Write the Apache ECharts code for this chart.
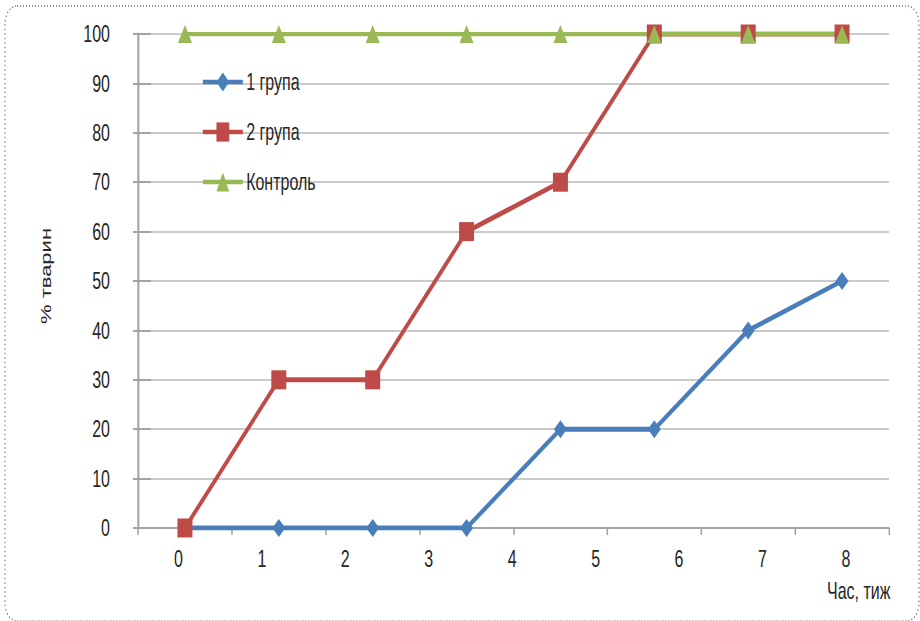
<!DOCTYPE html>
<html>
<head>
<meta charset="utf-8">
<script src="https://cdn.jsdelivr.net/npm/echarts@6/dist/echarts.min.js"></script>
<style>
  html, body { margin: 0; padding: 0; background: #fff; overflow: hidden; }
  #wrap { width: 920px; height: 621px; overflow: hidden; position: relative; }
  /* The chart is laid out wider and squeezed horizontally, giving the tall, narrow lettering and markers */
  #chart { width: 1380px; height: 621px; transform: scaleX(0.6666667); transform-origin: 0 0; }
</style>
</head>
<body>
<div id="wrap"><div id="chart"></div></div>
<script>
// Week labels along the time axis
const weekLabels = ['0', '1', '2', '3', '4', '5', '6', '7', '8'];

// Share of animals (%) per observation
const group1 = [0, 0, 0, 0, 20, 20, 40, 50];
const group2 = [0, 30, 30, 60, 70, 100, 100, 100];
const control = [100, 100, 100, 100, 100, 100, 100, 100];

const seriesNames = ['1 група', '2 група', 'Контроль'];

// Observation slots used to place the points
const slots = group1.map((_, i) => String(i));

// Horizontal squeeze factor (layout width / page width)
const SX = 1.5;
const W = 920 * SX;
const FONT = "'Liberation Sans', Arial, sans-serif";
const TEXT = '#262626';
const AXIS = '#a3a3a3';

const chart = echarts.init(document.getElementById('chart'), null, { renderer: 'svg' });

chart.setOption({
  animation: false,
  backgroundColor: '#ffffff',
  textStyle: { fontFamily: FONT },
  grid: {
    left: 138 * SX,
    right: W - 889 * SX,
    top: 34,
    bottom: 93,
    containLabel: false,
    outerBoundsMode: 'none'
  },
  graphic: [{
    type: 'rect',
    silent: true,
    z: -10,
    shape: { x: 5 * SX, y: 6, width: 914 * SX, height: 615, r: 18 },
    style: { fill: 'none', stroke: '#6e6e6e', lineWidth: 1.6, lineDash: [1.5, 3] }
  }],
  legend: {
    orient: 'vertical',
    left: 198 * SX,
    top: 65,
    itemWidth: 40 * SX,
    itemHeight: 24,
    itemGap: 26,
    data: seriesNames,
    lineStyle: { width: 4.5 },
    textStyle: { fontSize: 24, color: TEXT, fontFamily: FONT }
  },
  xAxis: [{
    type: 'category',
    data: slots,
    position: 'bottom',
    boundaryGap: true,
    axisLine: { show: true, onZero: false, lineStyle: { color: AXIS, width: 2 } },
    axisTick: { show: true, length: 7, lineStyle: { color: AXIS, width: 2.3 } },
    axisLabel: { show: false },
    splitLine: { show: false }
  }, {
    type: 'category',
    data: weekLabels,
    position: 'bottom',
    boundaryGap: true,
    axisLine: { show: false },
    axisTick: { show: false },
    axisLabel: { margin: 19, fontSize: 24, color: TEXT, fontFamily: FONT, padding: [0, 4, 0, 0] },
    splitLine: { show: false },
    name: 'Час, тиж',
    nameLocation: 'end',
    nameGap: 2,
    nameTextStyle: {
      fontSize: 24, color: TEXT, fontFamily: FONT,
      align: 'right', verticalAlign: 'top', padding: [51, 0, 0, 0]
    }
  }],
  yAxis: [{
    type: 'value',
    min: 0,
    max: 100,
    interval: 10,
    position: 'left',
    axisLine: { show: true, lineStyle: { color: AXIS, width: 3 } },
    axisTick: { show: true, inside: true, length: 13 * SX, lineStyle: { color: AXIS, width: 2 } },
    axisLabel: { margin: 28 * SX, fontSize: 24, color: TEXT, fontFamily: FONT },
    splitLine: { show: true, lineStyle: { color: '#b8b8b8', width: 1.7 } },
    name: '% тварин',
    nameLocation: 'middle',
    nameGap: 85 * SX,
    nameTextStyle: { fontSize: 22, color: TEXT, fontFamily: FONT, padding: [0, 0, 0, 10] }
  }, {
    type: 'value',
    min: 0,
    max: 100,
    interval: 10,
    position: 'left',
    axisLine: { show: false },
    axisTick: { show: true, inside: false, length: 5 * SX, lineStyle: { color: AXIS, width: 2 } },
    axisLabel: { show: false },
    splitLine: { show: false }
  }],
  series: [{
    name: seriesNames[0],
    type: 'line',
    xAxisIndex: 0,
    yAxisIndex: 0,
    data: group1,
    symbol: 'diamond',
    symbolSize: [13 * SX, 18],
    lineStyle: { width: 5, color: '#4a7ebb' },
    itemStyle: { color: '#4a7ebb' }
  }, {
    name: seriesNames[1],
    type: 'line',
    xAxisIndex: 0,
    yAxisIndex: 0,
    data: group2,
    symbol: 'rect',
    symbolSize: [15 * SX, 19],
    lineStyle: { width: 5, color: '#be4b48' },
    itemStyle: { color: '#be4b48' }
  }, {
    name: seriesNames[2],
    type: 'line',
    xAxisIndex: 0,
    yAxisIndex: 0,
    data: control,
    symbol: 'triangle',
    symbolSize: [14 * SX, 18],
    lineStyle: { width: 4.5, color: '#98b954' },
    itemStyle: { color: '#98b954' }
  }]
});
</script>
</body>
</html>
